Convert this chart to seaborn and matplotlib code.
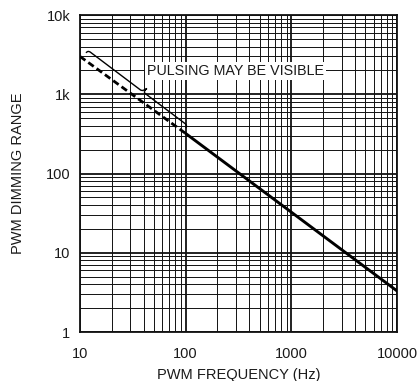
import numpy as np
import matplotlib
matplotlib.use('Agg')
import matplotlib.pyplot as plt
import seaborn as sns
from matplotlib.path import Path
from matplotlib.patches import PathPatch
from matplotlib.ticker import NullFormatter

# data
freq_dashed = [10, 100]
range_dashed = [3000, 320]
freq_solid = [100, 10000]
range_solid = [320, 3.3]

x_ticks = [10, 100, 1000, 10000]
x_labels = ['10', '100', '1000', '10000']
y_ticks = [1, 10, 100, 1000, 10000]
y_labels = ['1', '10', '100', '1k', '10k']

note_text = 'PULSING MAY BE VISIBLE'
brace_start = (11.4, 3330)
brace_end = (100, 375)

sns.set_style('white')
plt.rcParams['font.family'] = ['Liberation Sans Narrow', 'Liberation Sans', 'DejaVu Sans']

fig = plt.figure(figsize=(4.18, 3.81), dpi=100)
ax = fig.add_axes([0.1914, 0.1286, 0.7584, 0.832])

sns.lineplot(x=freq_dashed, y=range_dashed, ax=ax, color='black',
             linestyle=(0, (2.4, 1.3)), linewidth=2.0, zorder=4)
sns.lineplot(x=freq_solid, y=range_solid, ax=ax, color='black',
             linewidth=2.1, zorder=4)

ax.set_xscale('log')
ax.set_yscale('log')
ax.set_xlim(10, 10000)
ax.set_ylim(1, 10000)

ax.set_xticks(x_ticks)
ax.set_xticklabels(x_labels)
ax.set_yticks(y_ticks)
ax.set_yticklabels(y_labels)
ax.xaxis.set_minor_formatter(NullFormatter())
ax.yaxis.set_minor_formatter(NullFormatter())
ax.tick_params(which='both', length=0)
ax.tick_params(axis='x', pad=10.5, labelsize=10.5, colors='#1a1a1a')
ax.tick_params(axis='y', pad=7, labelsize=10.5, colors='#1a1a1a')

ax.grid(which='major', color='#111111', linewidth=1.3)
ax.grid(which='minor', color='#111111', linewidth=0.7)
ax.set_axisbelow(True)
for s in ax.spines.values():
    s.set_color('#111111')
    s.set_linewidth(1.3)

ax.set_xlabel('PWM FREQUENCY (Hz)', fontsize=10.5, color='#1a1a1a', labelpad=5)
ax.set_ylabel('PWM DIMMING RANGE', fontsize=10.5, color='#1a1a1a', labelpad=15)

# curly brace along the dashed part
to_axes = ax.transData + ax.transAxes.inverted()
p0 = np.array(to_axes.transform(brace_start))
p1 = np.array(to_axes.transform(brace_end))
u = (p1 - p0) / np.linalg.norm(p1 - p0)
n = np.array([-u[1], u[0]])
if n[0] < 0:
    n = -n
h, d = 0.010, 0.010
mid = (p0 + p1) / 2 + 0.02 * u
verts = [p0,
         p0 + h * n, p0 + h * n + d * u,
         mid - d * u + h * n,
         mid + h * n, mid + 2.6 * h * n + 0.004 * u,
         mid + h * n, mid + d * u + h * n,
         p1 - d * u + h * n,
         p1 + h * n, p1]
codes = [Path.MOVETO,
         Path.CURVE3, Path.CURVE3,
         Path.LINETO,
         Path.CURVE3, Path.CURVE3,
         Path.CURVE3, Path.CURVE3,
         Path.LINETO,
         Path.CURVE3, Path.CURVE3]
ax.add_patch(PathPatch(Path(verts, codes), transform=ax.transAxes,
                       fill=False, edgecolor='black', linewidth=1.0, zorder=5))

ax.text(43, 1965, note_text, fontsize=10.3, color='#1a1a1a', va='center', ha='left',
        zorder=6, bbox=dict(facecolor='white', edgecolor='none', pad=1.5))

fig.savefig('out.png', dpi=100)
